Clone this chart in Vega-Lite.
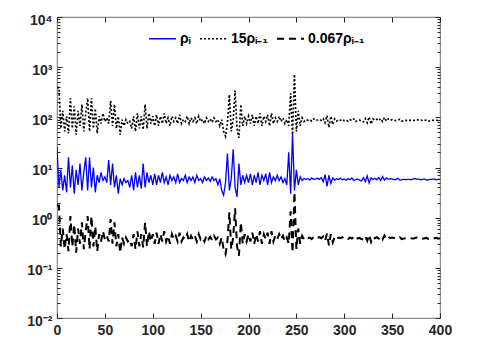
{
 "$schema": "https://vega.github.io/schema/vega-lite/v6.json",
 "width": 383, "height": 301,
 "autosize": "none",
 "padding": {"left": 57, "top": 17, "right": 39, "bottom": 20},
 "background": "white",
 "config": {"view": {"stroke": "#4a4a4a", "strokeWidth": 0.8}, "font": "Liberation Sans"},
 "data": {"values": [
{"x":0,"r":26,"a":390,"b":1.742},{"x":2,"r":4,"a":390,"b":1.742},{"x":4,"r":9,"a":60,"b":0.268},{"x":6,"r":3.5,"a":135,"b":0.603},{"x":8,"r":7,"a":52.5,"b":0.235},{"x":10,"r":3.2,"a":105,"b":0.469},{"x":12,"r":16,"a":48,"b":0.214},{"x":14,"r":4,"a":240,"b":1.072},{"x":16,"r":11,"a":60,"b":0.268},{"x":18,"r":3,"a":165,"b":0.737},
{"x":20,"r":9,"a":45,"b":0.201},{"x":22,"r":4.5,"a":135,"b":0.603},{"x":24,"r":12,"a":67.5,"b":0.302},{"x":26,"r":3.5,"a":180,"b":0.804},{"x":28,"r":8,"a":52.5,"b":0.235},{"x":30,"r":16,"a":120,"b":0.536},{"x":32,"r":3.5,"a":240,"b":1.072},{"x":34,"r":16,"a":52.5,"b":0.235},{"x":36,"r":4,"a":240,"b":1.072},{"x":38,"r":10,"a":60,"b":0.268},
{"x":40,"r":3.2,"a":150,"b":0.67},{"x":42,"r":7,"a":48,"b":0.214},{"x":44,"r":5,"a":105,"b":0.469},{"x":46,"r":8,"a":75,"b":0.335},{"x":48,"r":5.5,"a":120,"b":0.536},{"x":50,"r":6.5,"a":82.5,"b":0.369},{"x":52,"r":5,"a":97.5,"b":0.436},{"x":54,"r":14,"a":75,"b":0.335},{"x":56,"r":4.5,"a":210,"b":0.938},{"x":58,"r":12,"a":67.5,"b":0.302},
{"x":60,"r":4,"a":180,"b":0.804},{"x":62,"r":7,"a":60,"b":0.268},{"x":64,"r":3,"a":105,"b":0.469},{"x":66,"r":6,"a":45,"b":0.201},{"x":68,"r":4.5,"a":90,"b":0.402},{"x":70,"r":6,"a":67.5,"b":0.302},{"x":72,"r":5,"a":90,"b":0.402},{"x":74,"r":5.5,"a":75,"b":0.335},{"x":76,"r":4,"a":82.5,"b":0.369},{"x":78,"r":7,"a":60,"b":0.268},
{"x":80,"r":3.5,"a":105,"b":0.469},{"x":82,"r":8,"a":52.5,"b":0.235},{"x":84,"r":4,"a":120,"b":0.536},{"x":86,"r":7,"a":60,"b":0.268},{"x":88,"r":3.8,"a":105,"b":0.469},{"x":90,"r":12,"a":57,"b":0.255},{"x":92,"r":4,"a":180,"b":0.804},{"x":94,"r":8,"a":60,"b":0.268},{"x":96,"r":5,"a":120,"b":0.536},{"x":98,"r":7,"a":75,"b":0.335},
{"x":100,"r":4.5,"a":105,"b":0.469},{"x":102,"r":7.5,"a":67.5,"b":0.302},{"x":104,"r":4.5,"a":112.5,"b":0.503},{"x":106,"r":7,"a":67.5,"b":0.302},{"x":108,"r":5,"a":105,"b":0.469},{"x":110,"r":8,"a":75,"b":0.335},{"x":112,"r":5,"a":120,"b":0.536},{"x":114,"r":6.5,"a":75,"b":0.335},{"x":116,"r":4.5,"a":97.5,"b":0.436},{"x":118,"r":7,"a":67.5,"b":0.302},
{"x":120,"r":5.5,"a":105,"b":0.469},{"x":122,"r":6.5,"a":82.5,"b":0.369},{"x":124,"r":5,"a":97.5,"b":0.436},{"x":126,"r":7.5,"a":75,"b":0.335},{"x":128,"r":5,"a":112.5,"b":0.503},{"x":130,"r":6,"a":75,"b":0.335},{"x":132,"r":5.5,"a":90,"b":0.402},{"x":134,"r":7,"a":82.5,"b":0.369},{"x":136,"r":5,"a":105,"b":0.469},{"x":138,"r":6.5,"a":75,"b":0.335},
{"x":140,"r":5.5,"a":97.5,"b":0.436},{"x":142,"r":6.5,"a":82.5,"b":0.369},{"x":144,"r":5,"a":97.5,"b":0.436},{"x":146,"r":7,"a":75,"b":0.335},{"x":148,"r":5.5,"a":105,"b":0.469},{"x":150,"r":6,"a":82.5,"b":0.369},{"x":152,"r":5,"a":90,"b":0.402},{"x":154,"r":6.5,"a":75,"b":0.335},{"x":156,"r":5.5,"a":97.5,"b":0.436},{"x":158,"r":6.2,"a":82.5,"b":0.369},
{"x":160,"r":5.3,"a":93,"b":0.415},{"x":162,"r":6.5,"a":79.5,"b":0.355},{"x":164,"r":5.5,"a":97.5,"b":0.436},{"x":166,"r":6,"a":82.5,"b":0.369},{"x":168,"r":4.5,"a":90,"b":0.402},{"x":170,"r":6,"a":67.5,"b":0.302},{"x":172,"r":3.5,"a":90,"b":0.402},{"x":174,"r":2.8,"a":52.5,"b":0.235},{"x":176,"r":5,"a":42,"b":0.188},{"x":178,"r":19,"a":75,"b":0.335},
{"x":180,"r":3.5,"a":285,"b":1.273},{"x":182,"r":6,"a":52.5,"b":0.235},{"x":184,"r":23,"a":90,"b":0.402},{"x":186,"r":4,"a":345,"b":1.541},{"x":188,"r":2.6,"a":60,"b":0.268},{"x":190,"r":12,"a":39,"b":0.174},{"x":192,"r":4.5,"a":180,"b":0.804},{"x":194,"r":7,"a":67.5,"b":0.302},{"x":196,"r":5,"a":105,"b":0.469},{"x":198,"r":7,"a":75,"b":0.335},
{"x":200,"r":5,"a":105,"b":0.469},{"x":202,"r":7.5,"a":75,"b":0.335},{"x":204,"r":4.5,"a":112.5,"b":0.503},{"x":206,"r":7,"a":67.5,"b":0.302},{"x":208,"r":5,"a":105,"b":0.469},{"x":210,"r":8,"a":75,"b":0.335},{"x":212,"r":4.5,"a":120,"b":0.536},{"x":214,"r":7,"a":67.5,"b":0.302},{"x":216,"r":5.5,"a":105,"b":0.469},{"x":218,"r":7.5,"a":82.5,"b":0.369},
{"x":220,"r":4.5,"a":112.5,"b":0.503},{"x":222,"r":8,"a":67.5,"b":0.302},{"x":224,"r":5,"a":120,"b":0.536},{"x":226,"r":6.5,"a":75,"b":0.335},{"x":228,"r":5.5,"a":97.5,"b":0.436},{"x":230,"r":7,"a":82.5,"b":0.369},{"x":232,"r":5.5,"a":105,"b":0.469},{"x":234,"r":6.5,"a":82.5,"b":0.369},{"x":236,"r":5,"a":97.5,"b":0.436},{"x":238,"r":6,"a":75,"b":0.335},
{"x":240,"r":4.5,"a":90,"b":0.402},{"x":242,"r":20,"a":67.5,"b":0.302},{"x":244,"r":3,"a":300,"b":1.34},{"x":246,"r":48,"a":45,"b":0.201},{"x":248,"r":3.5,"a":720,"b":3.216},{"x":250,"r":9,"a":52.5,"b":0.235},{"x":252,"r":4.5,"a":135,"b":0.603},{"x":254,"r":6.5,"a":67.5,"b":0.302},{"x":256,"r":5.5,"a":97.5,"b":0.436},{"x":258,"r":6,"a":82.5,"b":0.369},
{"x":260,"r":5.8,"a":90,"b":0.402},{"x":262,"r":6,"a":87,"b":0.389},{"x":264,"r":5.6,"a":90,"b":0.402},{"x":266,"r":6.2,"a":84,"b":0.375},{"x":268,"r":5.8,"a":93,"b":0.415},{"x":270,"r":5.9,"a":87,"b":0.389},{"x":272,"r":6.1,"a":88.5,"b":0.395},{"x":274,"r":5.8,"a":91.5,"b":0.409},{"x":276,"r":6.3,"a":87,"b":0.389},{"x":278,"r":5.2,"a":94.5,"b":0.422},
{"x":280,"r":7.2,"a":78,"b":0.348},{"x":282,"r":4.2,"a":108,"b":0.482},{"x":284,"r":7,"a":63,"b":0.281},{"x":286,"r":4.8,"a":105,"b":0.469},{"x":288,"r":6.2,"a":72,"b":0.322},{"x":290,"r":5.6,"a":93,"b":0.415},{"x":292,"r":6,"a":84,"b":0.375},{"x":294,"r":5.8,"a":90,"b":0.402},{"x":296,"r":6.1,"a":87,"b":0.389},{"x":298,"r":5.7,"a":91.5,"b":0.409},
{"x":300,"r":5.9,"a":85.5,"b":0.382},{"x":302,"r":5.6,"a":88.5,"b":0.395},{"x":304,"r":6,"a":84,"b":0.375},{"x":306,"r":5.7,"a":90,"b":0.402},{"x":308,"r":6.2,"a":85.5,"b":0.382},{"x":310,"r":5.5,"a":93,"b":0.415},{"x":312,"r":5.8,"a":82.5,"b":0.369},{"x":314,"r":5.9,"a":87,"b":0.389},{"x":316,"r":5.6,"a":88.5,"b":0.395},{"x":318,"r":5.4,"a":84,"b":0.375},
{"x":320,"r":6.3,"a":81,"b":0.362},{"x":322,"r":5.2,"a":94.5,"b":0.422},{"x":324,"r":6.8,"a":78,"b":0.348},{"x":326,"r":4.9,"a":102,"b":0.456},{"x":328,"r":6.2,"a":73.5,"b":0.328},{"x":330,"r":5.8,"a":93,"b":0.415},{"x":332,"r":6.1,"a":87,"b":0.389},{"x":334,"r":5.7,"a":91.5,"b":0.409},{"x":336,"r":6.3,"a":85.5,"b":0.382},{"x":338,"r":5.5,"a":94.5,"b":0.422},
{"x":340,"r":6.6,"a":82.5,"b":0.369},{"x":342,"r":5.6,"a":99,"b":0.442},{"x":344,"r":6.2,"a":84,"b":0.375},{"x":346,"r":5.8,"a":93,"b":0.415},{"x":348,"r":6,"a":87,"b":0.389},{"x":350,"r":5.9,"a":90,"b":0.402},{"x":352,"r":5.7,"a":88.5,"b":0.395},{"x":354,"r":5.8,"a":85.5,"b":0.382},{"x":356,"r":6.1,"a":87,"b":0.389},{"x":358,"r":5.6,"a":91.5,"b":0.409},
{"x":360,"r":5.7,"a":84,"b":0.375},{"x":362,"r":5.8,"a":85.5,"b":0.382},{"x":364,"r":5.7,"a":87,"b":0.389},{"x":366,"r":5.8,"a":85.5,"b":0.382},{"x":368,"r":5.8,"a":87,"b":0.389},{"x":370,"r":5.7,"a":87,"b":0.389},{"x":372,"r":5.9,"a":85.5,"b":0.382},{"x":374,"r":6,"a":88.5,"b":0.395},{"x":376,"r":5.8,"a":90,"b":0.402},{"x":378,"r":5.9,"a":87,"b":0.389},
{"x":380,"r":5.7,"a":88.5,"b":0.395},{"x":382,"r":5.8,"a":85.5,"b":0.382},{"x":384,"r":5.9,"a":87,"b":0.389},{"x":386,"r":5.6,"a":88.5,"b":0.395},{"x":388,"r":5.7,"a":84,"b":0.375},{"x":390,"r":5.8,"a":85.5,"b":0.382},{"x":392,"r":5.8,"a":87,"b":0.389},{"x":394,"r":5.9,"a":87,"b":0.389},{"x":396,"r":5.7,"a":88.5,"b":0.395},{"x":398,"r":5.8,"a":85.5,"b":0.382},
{"x":400,"r":5.8,"a":87,"b":0.389}
 ]},
 "transform": [{"fold": ["r", "a", "b"], "as": ["series", "value"]}],
 "layer": [
  {
   "mark": {"type": "line", "strokeCap": "butt", "strokeJoin": "miter", "clip": true},
   "encoding": {
    "x": {"field": "x", "type": "quantitative", "scale": {"domain": [0, 400], "nice": false, "zero": false},
     "axis": {"orient": "bottom", "values": [0,50,100,150,200,250,300,350,400], "title": null, "grid": false, "domain": false,
      "tickSize": -5, "tickColor": "#262626", "labelFontSize": 14, "labelFontWeight": "bold", "labelColor": "#262626", "labelPadding": 10, "labelFlush": false, "labelOverlap": false}},
    "y": {"field": "value", "type": "quantitative", "scale": {"type": "log", "domain": [0.01, 10000], "nice": false},
     "axis": {"orient": "left", "title": null, "grid": false, "domain": false,
      "values": [0.01,0.02,0.03,0.04,0.05,0.06,0.07,0.08,0.09,0.1,0.2,0.3,0.4,0.5,0.6,0.7,0.8,0.9,1,2,3,4,5,6,7,8,9,10,20,30,40,50,60,70,80,90,100,200,300,400,500,600,700,800,900,1000,2000,3000,4000,5000,6000,7000,8000,9000,10000],
      "tickSize": {"condition": {"test": "abs(log(datum.value)/LN10 - round(log(datum.value)/LN10)) < 0.001", "value": -5}, "value": -3},
      "tickColor": "#262626", "labelFontSize": 14, "labelFontWeight": "bold", "labelColor": "#262626", "labelPadding": 10, "labelOffset": 3, "labelOverlap": false, "labelBound": false,
      "labelExpr": "abs(log(datum.value)/LN10 - round(log(datum.value)/LN10)) > 0.001 ? '' : round(log(datum.value)/LN10) == -2 ? '10⁻²' : round(log(datum.value)/LN10) == -1 ? '10⁻¹' : round(log(datum.value)/LN10) == 0 ? '10⁰' : round(log(datum.value)/LN10) == 1 ? '10¹' : round(log(datum.value)/LN10) == 2 ? '10²' : round(log(datum.value)/LN10) == 3 ? '10³' : '10⁴'"}},
    "color": {"field": "series", "type": "nominal", "scale": {"domain": ["r", "a", "b"], "range": ["#0000ff", "#000000", "#000000"]},
     "legend": {"orient": "none", "legendX": 91, "legendY": 7, "direction": "horizontal", "title": null, "symbolType": "stroke", "symbolSize": 729,
      "labelFontSize": 14, "labelFontWeight": "bold", "labelColor": "#000000", "labelOffset": 3, "columnPadding": 5,
      "labelExpr": "datum.value == 'r' ? 'ρᵢ' : datum.value == 'a' ? '15ρᵢ₋₁' : '0.067ρᵢ₋₁'"}},
    "strokeDash": {"field": "series", "type": "nominal", "scale": {"domain": ["r", "a", "b"], "range": [[1, 0], [2, 2], [7, 5]]}},
    "strokeWidth": {"field": "series", "type": "nominal", "scale": {"domain": ["r", "a", "b"], "range": [1.3, 2, 2]}}
   }
  },
  {
   "mark": {"type": "point", "opacity": 0},
   "encoding": {
    "x": {"field": "x", "type": "quantitative", "scale": {"domain": [0, 400], "nice": false, "zero": false},
     "axis": {"orient": "top", "values": [0,50,100,150,200,250,300,350,400], "title": null, "grid": false, "domain": false, "labels": false, "tickSize": -5, "tickColor": "#262626"}},
    "y": {"field": "value", "type": "quantitative", "scale": {"type": "log", "domain": [0.01, 10000], "nice": false},
     "axis": {"orient": "right", "title": null, "grid": false, "domain": false, "labels": false,
      "values": [0.01,0.02,0.03,0.04,0.05,0.06,0.07,0.08,0.09,0.1,0.2,0.3,0.4,0.5,0.6,0.7,0.8,0.9,1,2,3,4,5,6,7,8,9,10,20,30,40,50,60,70,80,90,100,200,300,400,500,600,700,800,900,1000,2000,3000,4000,5000,6000,7000,8000,9000,10000],
      "tickSize": {"condition": {"test": "abs(log(datum.value)/LN10 - round(log(datum.value)/LN10)) < 0.001", "value": -5}, "value": -3},
      "tickColor": "#262626"}}
   }
  }
 ],
 "resolve": {"axis": {"x": "independent", "y": "independent"}}
}
